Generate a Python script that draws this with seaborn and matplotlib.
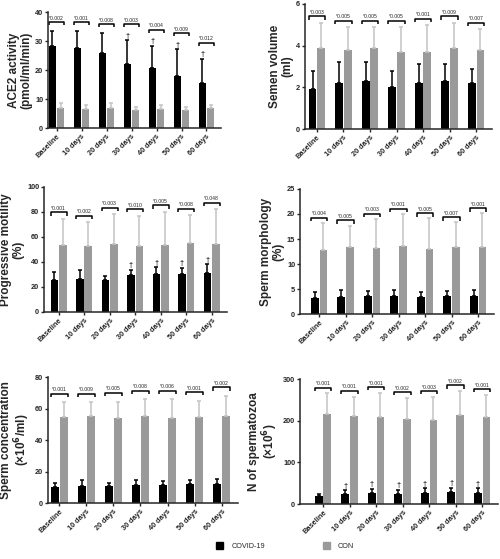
import numpy as np
import pandas as pd
import matplotlib
matplotlib.use("Agg")
import matplotlib.pyplot as plt
from matplotlib.patches import Patch
import seaborn as sns

# データ
timepoints = ["Baseline", "10 days", "20 days", "30 days", "40 days", "50 days", "60 days"]
groups = ["COVID-19", "CON"]

ace2_covid = [28.2, 27.5, 26.0, 22.2, 20.6, 18.1, 15.4]
ace2_covid_sd = [5.3, 6.0, 6.7, 8.1, 7.7, 9.0, 8.4]
ace2_con = [6.8, 6.5, 7.0, 6.3, 6.7, 6.3, 6.8]
ace2_con_sd = [1.9, 1.5, 1.7, 1.0, 1.3, 1.0, 1.3]
ace2_p = ["0.002", "0.001", "0.008", "0.003", "0.004", "0.009", "0.012"]
ace2_dagger = [False, False, False, True, True, True, True]

vol_covid = [1.9, 2.2, 2.3, 2.0, 2.2, 2.3, 2.2]
vol_covid_sd = [0.9, 1.0, 0.9, 0.8, 0.9, 0.8, 0.7]
vol_con = [3.9, 3.8, 3.9, 3.7, 3.7, 3.9, 3.8]
vol_con_sd = [1.2, 1.1, 1.0, 1.2, 1.3, 1.2, 1.0]
vol_p = ["0.003", "0.005", "0.005", "0.005", "0.001", "0.009", "0.007"]
vol_dagger = [False] * 7

mot_covid = [25.5, 26.5, 25.5, 29.5, 30.5, 30.0, 31.0]
mot_covid_sd = [6.0, 7.0, 3.0, 4.0, 5.0, 5.0, 7.0]
mot_con = [53.5, 52.5, 54.5, 53.0, 53.5, 55.0, 54.5]
mot_con_sd = [21.0, 19.5, 23.5, 24.0, 26.5, 22.5, 27.5]
mot_p = ["0.001", "0.002", "0.003", "0.010", "0.005", "0.008", "0.048"]
mot_dagger = [False, False, False, True, True, True, True]

morph_covid = [3.3, 3.5, 3.6, 3.7, 3.5, 3.6, 3.7]
morph_covid_sd = [1.1, 1.3, 1.0, 1.1, 1.0, 1.1, 1.2]
morph_con = [12.9, 13.5, 13.3, 13.7, 13.0, 13.5, 13.5]
morph_con_sd = [5.3, 4.2, 5.7, 6.3, 6.1, 4.8, 6.6]
morph_p = ["0.004", "0.005", "0.003", "0.001", "0.005", "0.007", "0.001"]
morph_dagger = [False] * 7

conc_covid = [10.5, 10.8, 11.0, 11.5, 11.5, 12.0, 12.3]
conc_covid_sd = [2.5, 3.7, 1.8, 3.0, 2.5, 3.0, 3.2]
conc_con = [54.5, 55.5, 54.0, 55.3, 54.0, 54.5, 55.3]
conc_con_sd = [9.5, 8.5, 10.5, 10.7, 12.0, 10.5, 12.7]
conc_p = ["0.001", "0.009", "0.005", "0.008", "0.006", "0.001", "0.002"]
conc_dagger = [False] * 7

n_covid = [20, 25, 27, 24, 27, 29, 28]
n_covid_sd = [5, 8, 10, 11, 11, 11, 10]
n_con = [215, 212, 210, 205, 201, 213, 210]
n_con_sd = [51, 46, 57, 50, 56, 58, 52]
n_p = ["0.001", "0.001", "0.001", "0.002", "0.003", "0.002", "0.001"]
n_dagger = [False, True, True, True, True, True, True]

BLACK = "#000000"
GRAY = "#9a9a9a"
LIGHT = "#c4c4c4"

sns.set_style("ticks")
plt.rcParams["font.family"] = ["Liberation Sans", "DejaVu Sans"]
plt.rcParams["font.weight"] = "bold"

fig = plt.figure(figsize=(5.0, 5.59), dpi=100)

panels = [
    # (rect, ylabel, ylim, yticks, xlim_left, data..., bracket offset)
    ([0.096, 0.771, 0.347, 0.2075], "ACE2 activity\n(pmol/ml/min)", 40, [0, 10, 20, 30, 40], -0.34,
     ace2_covid, ace2_covid_sd, ace2_con, ace2_con_sd, ace2_p, ace2_dagger, 0.075),
    ([0.61, 0.769, 0.374, 0.224], "Semen volume\n(ml)", 6, [0, 2, 4, 6], -0.45,
     vol_covid, vol_covid_sd, vol_con, vol_con_sd, vol_p, vol_dagger, 0.05),
    ([0.088, 0.442, 0.366, 0.224], "Progressive motility\n(%)", 100, [0, 20, 40, 60, 80, 100], -0.57,
     mot_covid, mot_covid_sd, mot_con, mot_con_sd, mot_p, mot_dagger, 0.05),
    ([0.60, 0.438, 0.388, 0.224], "Sperm morphology\n(%)", 25, [0, 5, 10, 15, 20, 25], -0.72,
     morph_covid, morph_covid_sd, morph_con, morph_con_sd, morph_p, morph_dagger, 0.04),
    ([0.096, 0.10, 0.38, 0.225], "Sperm concentration\n(\u00d710$^{\\mathbf{6}}$/ml)", 80, [0, 20, 40, 60, 80], -0.41,
     conc_covid, conc_covid_sd, conc_con, conc_con_sd, conc_p, conc_dagger, 0.07),
    ([0.60, 0.098, 0.396, 0.224], "N of spermatozoa\n(\u00d710$^{\\mathbf{6}}$)", 300, [0, 100, 200, 300], -0.87,
     n_covid, n_covid_sd, n_con, n_con_sd, n_p, n_dagger, 0.045),
]

for rect, ylabel, ymax, yticks, xleft, cm, csd, km, ksd, pvals, dagger, boff in panels:
    ax = fig.add_axes(rect)
    df = pd.DataFrame({
        "time": timepoints * 2,
        "group": [groups[0]] * 7 + [groups[1]] * 7,
        "value": cm + km,
    })
    sns.barplot(data=df, x="time", y="value", hue="group", palette=[BLACK, GRAY],
                width=0.66, gap=0.1, errorbar=None, ax=ax, legend=False,
                saturation=1, linewidth=0)

    covid_bars, con_bars = ax.containers[0], ax.containers[1]
    cx = [b.get_x() + b.get_width() / 2 for b in covid_bars]
    kx = [b.get_x() + b.get_width() / 2 for b in con_bars]
    ax.errorbar(cx, cm, yerr=[np.zeros(7), csd], fmt="none", ecolor=BLACK,
                elinewidth=1.1, capsize=1.7, capthick=1.1)
    ax.errorbar(kx, km, yerr=[np.zeros(7), ksd], fmt="none", ecolor=LIGHT,
                elinewidth=1.1, capsize=1.7, capthick=1.1)

    for i in range(7):
        ctop = cm[i] + csd[i]
        ktop = km[i] + ksd[i]
        if dagger[i]:
            ax.text(cx[i], ctop + ymax * 0.005, "\u2020", ha="center", va="bottom",
                    fontsize=5.5, fontweight="bold")
            ctop += ymax * 0.065
        h = max(ctop, ktop) + ymax * boff
        x0 = covid_bars[i].get_x()
        x1 = con_bars[i].get_x() + con_bars[i].get_width()
        tick = ymax * 0.025
        ax.plot([x0, x0, x1, x1], [h - tick, h, h, h - tick], color=BLACK,
                lw=1.1, solid_capstyle="butt", clip_on=False)
        ax.text((x0 + x1) / 2, h + ymax * 0.012, "*" + pvals[i], ha="center",
                va="bottom", fontsize=3.7, fontweight="normal")

    ax.set_ylim(0, ymax)
    ax.set_yticks(yticks)
    ax.set_xlim(xleft, 6.6)
    ax.set_xlabel("")
    ax.set_ylabel(ylabel, fontsize=8.5, fontweight="bold", linespacing=1.05, labelpad=2)
    ax.set_xticks(range(7))
    ax.set_xticklabels(timepoints, rotation=45, ha="right", rotation_mode="anchor",
                       fontsize=5.3, fontweight="bold")
    ax.tick_params(axis="y", labelsize=5.3, length=2.5, width=1.0, pad=1)
    ax.tick_params(axis="x", length=2, width=1.0, pad=1.5)
    for lab in ax.get_yticklabels():
        lab.set_fontweight("bold")
    sns.despine(ax=ax)
    for s in ["left", "bottom"]:
        ax.spines[s].set_linewidth(1.1)

handles = [Patch(facecolor=BLACK, edgecolor=BLACK, label="COVID-19"),
           Patch(facecolor=GRAY, edgecolor=GRAY, label="CON")]
leg = fig.legend(handles=handles, loc="center", bbox_to_anchor=(0.57, 0.023), ncol=2,
                 frameon=False, handlelength=1.0, handleheight=1.0, columnspacing=8,
                 handletextpad=1.1, prop={"size": 5.2, "weight": "normal"})

fig.savefig("out.png", dpi=100)
